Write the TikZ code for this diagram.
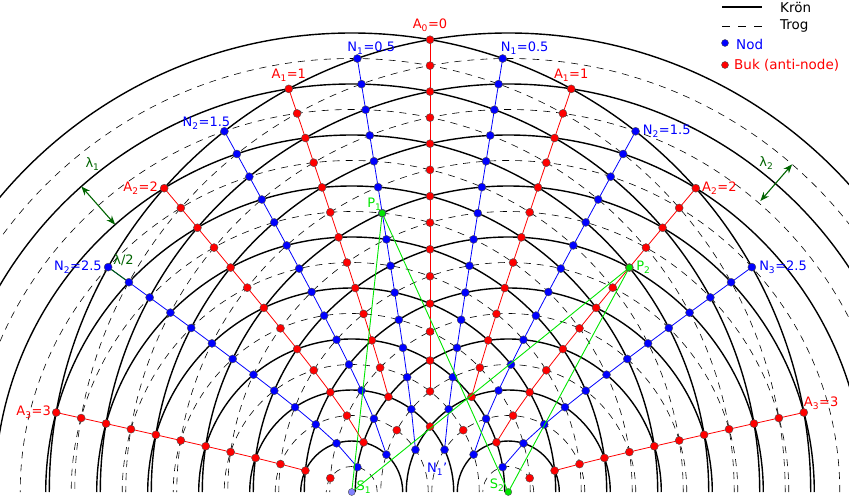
\documentclass[tikz,border=0pt]{standalone}
\usepackage{fontspec}
\setmainfont{DejaVu Sans}
\usetikzlibrary{positioning,arrows.meta,calc}

\definecolor{nodeBlue}{RGB}{0,0,255}
\definecolor{bukRed}{RGB}{255,0,0}
\definecolor{pathGreen}{RGB}{0,230,0}
\definecolor{arrowGreen}{RGB}{0,100,0}
\definecolor{srcBlue}{RGB}{130,130,255}

\tikzset{
  crest/.style={draw=black,line width=1.4pt},
  trough/.style={draw=black,line width=0.6pt,dash pattern=on 7pt off 6pt},
  wire/.style={line width=0.8pt},
  wdot/.style={circle,inner sep=0pt,minimum size=8pt,draw=black!70,line width=0.4pt},
  lbl/.style={font=\fontsize{13}{15}\selectfont,inner sep=1pt},
  leg/.style={font=\fontsize{13.5}{16}\selectfont,inner sep=1pt,anchor=west},
  gpath/.style={draw=pathGreen,line width=0.9pt},
  garrow/.style={draw=arrowGreen,line width=1.1pt,{Stealth[length=9pt,width=7pt]}-{Stealth[length=9pt,width=7pt]}}
}

% half distance between the sources, in wavelengths
\newcommand\cl{1.535}
% point at distance #2 from S1 and #3 from S2 (wavelengths), side #4
\newcommand\wavept[4]{%
  \pgfmathsetmacro\wxl{((#2)*(#2)-(#3)*(#3))/(4*\cl)}%
  \pgfmathsetmacro\wy{sqrt(max((#2)*(#2)-(\wxl+\cl)*(\wxl+\cl),0))}%
  \pgfmathsetmacro\wx{#4*\wxl}%
  \coordinate (#1) at (\wx,\wy);}
% #1 name, #2 colour, #3 side, #4 path difference, #5 first, #6 line start, #7 last
\newcommand\wline[7]{%
  \foreach \s in {#5,...,#7}{\wavept{#1-\s}{\s/2}{\s/2+#4}{#3}}
  \pgfmathtruncatemacro\wfrom{#6+1}
  \foreach \s [evaluate=\s as \sp using int(\s-1)] in {\wfrom,...,#7}{
    \draw[#2,wire] (#1-\sp) -- (#1-\s);}
  \foreach \s in {#5,...,#7}{\node[wdot,fill=#2] (d#1-\s) at (#1-\s) {};}
}

\begin{document}
\begin{tikzpicture}[x=1pt,y=1pt]
\useasboundingbox (0,0) rectangle (849,496);
\clip (0,0) rectangle (849,496);

\begin{scope}[shift={(430,4)},x=51pt,y=51pt]
\coordinate (S1) at (-\cl,0);
\coordinate (S2) at (\cl,0);

% wave fronts
\foreach \k in {1,...,9}{
  \draw[crest] (S1) ++(\k,0) arc (0:180:\k);
  \draw[crest] (S2) ++(\k,0) arc (0:180:\k);
}
\foreach \k in {0.5,1.5,...,8.5}{
  \draw[trough] (S1) ++(\k,0) arc (0:180:\k);
  \draw[trough] (S2) ++(\k,0) arc (0:180:\k);
}

% antinode and node lines
\wline{A0}{bukRed}{1}{0}{4}{5}{18}
\wline{A1l}{bukRed}{1}{1}{3}{4}{16}
\wline{A1r}{bukRed}{-1}{1}{3}{4}{16}
\wline{A2l}{bukRed}{1}{2}{2}{2}{14}
\wline{A2r}{bukRed}{-1}{2}{2}{2}{14}
\wline{A3l}{bukRed}{1}{3}{1}{2}{12}
\wline{A3r}{bukRed}{-1}{3}{1}{2}{12}
\wline{N1l}{nodeBlue}{1}{0.5}{3}{3}{17}
\wline{N1r}{nodeBlue}{-1}{0.5}{3}{3}{17}
\wline{N2l}{nodeBlue}{1}{1.5}{2}{2}{15}
\wline{N2r}{nodeBlue}{-1}{1.5}{2}{2}{15}
\wline{N3l}{nodeBlue}{1}{2.5}{1}{1}{13}
\wline{N3r}{nodeBlue}{-1}{2.5}{1}{1}{13}

% paths to P1 and P2
\draw[gpath] (S1) -- (dN1l-11.center) -- (S2);
\draw[gpath] (S1) -- (dA2r-10.center) -- (S2);
\node[wdot,fill=pathGreen,minimum size=7pt] (P1) at (dN1l-11) {};
\node[wdot,fill=pathGreen,minimum size=7pt] (P2) at (dA2r-10) {};
\node[wdot,fill=srcBlue,minimum size=7pt] (s1dot) at (S1) {};
\node[wdot,fill=pathGreen,minimum size=7pt] (s2dot) at (S2) {};

% half wavelength
\draw[draw=arrowGreen,line width=1pt] (dN3l-13) -- (dN3l-12);
\node[lbl,text=arrowGreen,above right=-3pt and 1pt of dN3l-13] (halfl) {λ/2};

% wavelengths
\draw[garrow] ($(S1)+(131.5:8)$) coordinate (l1a) -- ($(S1)+(131.5:7)$) coordinate (l1b);
\node[lbl,text=arrowGreen] (lam1) at ($(S1)+(128.3:8.2)$) {λ\textsubscript{1}};
\draw[garrow] ($(S2)+(49.1:8.5)$) coordinate (l2a) -- ($(S2)+(49.1:7.55)$) coordinate (l2b);
\node[lbl,text=arrowGreen] (lam2) at ($(S2)+(51.9:8.2)$) {λ\textsubscript{2}};

% labels
\node[lbl,text=bukRed,above=3pt of dA0-18] (tA0) {A\textsubscript{0}=0};
\node[lbl,text=bukRed,above=2pt of dA1l-16] (tA1l) {A\textsubscript{1}=1};
\node[lbl,text=bukRed,above=2pt of dA1r-16] (tA1r) {A\textsubscript{1}=1};
\node[lbl,text=bukRed,left=1pt of dA2l-14] (tA2l) {A\textsubscript{2}=2};
\node[lbl,text=bukRed,right=1pt of dA2r-14] (tA2r) {A\textsubscript{2}=2};
\node[lbl,text=bukRed,left=0pt of dA3l-12] (tA3l) {A\textsubscript{3}=3};
\node[lbl,text=bukRed,above right=-1pt and -4pt of dA3r-12] (tA3r) {A\textsubscript{3}=3};
\node[lbl,text=nodeBlue,above right=0pt and -14pt of dN1l-17] (tN1l) {N\textsubscript{1}=0.5};
\node[lbl,text=nodeBlue,above right=0pt and -6pt of dN1r-17] (tN1r) {N\textsubscript{1}=0.5};
\node[lbl,text=nodeBlue,above left=-2pt and -10pt of dN2l-15] (tN2l) {N\textsubscript{2}=1.5};
\node[lbl,text=nodeBlue,right=2pt of dN2r-15] (tN2r) {N\textsubscript{2}=1.5};
\node[lbl,text=nodeBlue,left=1pt of dN3l-13] (tN3l) {N\textsubscript{2}=2.5};
\node[lbl,text=nodeBlue,right=2pt of dN3r-13] (tN3r) {N\textsubscript{3}=2.5};
\node[lbl,text=pathGreen,above left=-1pt and -3pt of P1] (tP1) {P\textsubscript{1}};
\node[lbl,text=pathGreen,right=2pt of P2] (tP2) {P\textsubscript{2}};
\node[lbl,text=pathGreen,above right=-5pt and 1pt of s1dot] (tS1) {S\textsubscript{1}};
\node[lbl,text=pathGreen,above left=-3pt and 0pt of s2dot] (tS2) {S\textsubscript{2}};
\node[lbl,text=nodeBlue] (tN1q) at (0.14,0.45) {N\textsubscript{1}'};
\end{scope}

% legend
\coordinate (kA) at (722,489); \coordinate (kB) at (762,489);
\coordinate (tA) at (722,470); \coordinate (tB) at (762,470);
\draw[line width=1.3pt] (kA) -- (kB);
\draw[line width=0.6pt,dash pattern=on 8pt off 8pt] (tA) -- (tB);
\node[leg] (kron) at (779,489) {Krön};
\node[leg] (trog) at (779,470) {Trog};
\node[wdot,fill=nodeBlue,minimum size=7pt] (legN) at (725,453) {};
\node[leg,text=nodeBlue] (nod) at (735,452) {Nod};
\node[wdot,fill=bukRed,minimum size=7pt] (legA) at (725,431) {};
\node[leg,text=bukRed] (buk) at (733,431) {Buk (anti-node)};
\end{tikzpicture}
\end{document}
